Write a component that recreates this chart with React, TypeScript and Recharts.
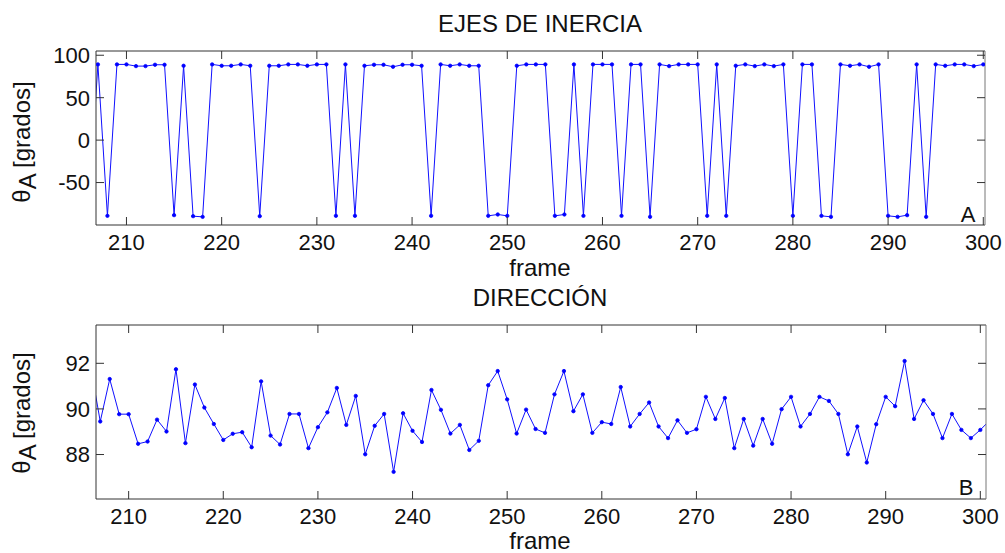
import React from "react";
import { LineChart, Line, XAxis, YAxis } from "recharts";

// frames shown in both panels (206 and 301 sit just outside the axes)
const frames = [
  206, 207, 208, 209, 210, 211, 212, 213, 214, 215, 216, 217, 218, 219, 220, 221,
  222, 223, 224, 225, 226, 227, 228, 229, 230, 231, 232, 233, 234, 235, 236, 237,
  238, 239, 240, 241, 242, 243, 244, 245, 246, 247, 248, 249, 250, 251, 252, 253,
  254, 255, 256, 257, 258, 259, 260, 261, 262, 263, 264, 265, 266, 267, 268, 269,
  270, 271, 272, 273, 274, 275, 276, 277, 278, 279, 280, 281, 282, 283, 284, 285,
  286, 287, 288, 289, 290, 291, 292, 293, 294, 295, 296, 297, 298, 299, 300, 301,
];

// panel A: ejes de inercia (degrees)
const ejes = [
  -88.2, 89.2, -89.2, 89.2, 89.2, 87.2, 87.2, 88.8, 88.8, -88.4, 87.6, -89.6, -90.4, 89.2, 87.6, 87.6,
  89.2, 87.6, -89.6, 87.6, 87.6, 89.2, 89.2, 87.6, 89.2, 89.2, -89.2, 89.2, -89.2, 87.6, 88.8, 88.8,
  86.4, 88.8, 88.8, 87.6, -89.2, 89.2, 87.6, 89.2, 87.6, 87.6, -89.2, -87.6, -89.2, 87.6, 89.2, 89.2,
  89.2, -89.2, -87.6, 89.2, -89.2, 89.2, 89.2, 89.2, -89.2, 89.2, 89.2, -90.4, 89.2, 87.2, 89.2, 89.2,
  89.2, -89.2, 89.2, -89.2, 87.6, 89.2, 87.2, 89.2, 87.2, 89.2, -89.2, 89.2, 89.2, -89.2, -90.4, 89.2,
  87.6, 89.2, 86.4, 89.2, -89.2, -90.4, -88.4, 89.2, -90.4, 89.2, 87.6, 89.2, 89.2, 87.2, 89.2, 89.2,
];

// panel B: direccion (degrees)
const direccion = [
  91.8, 89.45, 91.31, 89.77, 89.77, 88.47, 88.57, 89.53, 89.01, 91.74, 88.5, 91.07, 90.06, 89.34, 88.64, 88.91,
  88.98, 88.32, 91.21, 88.83, 88.44, 89.78, 89.78, 88.28, 89.2, 89.85, 90.92, 89.3, 90.57, 88.01, 89.26, 89.78,
  87.24, 89.81, 89.04, 88.55, 90.83, 89.96, 88.92, 89.3, 88.2, 88.6, 91.04, 91.66, 90.42, 88.92, 89.97, 89.12,
  88.95, 90.64, 91.66, 89.9, 90.64, 88.95, 89.42, 89.34, 90.96, 89.23, 89.78, 90.28, 89.23, 88.72, 89.5, 88.95,
  89.11, 90.53, 89.56, 90.48, 88.28, 89.56, 88.39, 89.56, 88.47, 89.99, 90.53, 89.23, 89.78, 90.53, 90.35, 89.78,
  88.01, 89.23, 87.65, 89.33, 90.53, 90.12, 92.1, 89.56, 90.38, 89.78, 88.72, 89.78, 89.08, 88.72, 89.08, 89.5,
];

const xTicks = [210, 220, 230, 240, 250, 260, 270, 280, 290, 300];
const yTicksA = [-50, 0, 50, 100];
const yTicksB = [88, 90, 92];

const data = frames.map((f, i) => ({ frame: f, ejes: ejes[i], dir: direccion[i] }));

const FONT = '"Liberation Sans", Arial, sans-serif';
const FRAME = "#333";
const BLUE = "#1010ff";
const TICK = 8;

const tickBottom = (props: any) => {
  const { x, y, payload } = props;
  return (
    <g>
      <line x1={x} y1={y} x2={x} y2={y - TICK} stroke={FRAME} />
      <text x={x} y={y + 17} dy="0.36em" textAnchor="middle" fontSize={22} fontFamily={FONT} fill="#111">
        {payload.value}
      </text>
    </g>
  );
};

const tickTop = (props: any) => {
  const { x, y } = props;
  return <line x1={x} y1={y} x2={x} y2={y + TICK} stroke={FRAME} />;
};

const tickLeft = (props: any) => {
  const { x, y, payload } = props;
  return (
    <g>
      <line x1={x} y1={y} x2={x + TICK} y2={y} stroke={FRAME} />
      <text x={x - 6} y={y} dy="0.36em" textAnchor="end" fontSize={22} fontFamily={FONT} fill="#111">
        {payload.value}
      </text>
    </g>
  );
};

const tickRight = (props: any) => {
  const { x, y } = props;
  return <line x1={x} y1={y} x2={x - TICK} y2={y} stroke={FRAME} />;
};

function Panel({
  dataKey,
  domainX,
  domainY,
  yTicks,
  height,
  margin,
}: {
  dataKey: string;
  domainX: [number, number];
  domainY: [number, number];
  yTicks: number[];
  height: number;
  margin: { top: number; right: number; bottom: number; left: number };
}) {
  return (
    <LineChart width={1005} height={height} data={data} margin={margin}>
      <XAxis
        dataKey="frame"
        type="number"
        domain={domainX}
        allowDataOverflow
        ticks={xTicks}
        interval={0}
        height={30}
        tickSize={0}
        tickMargin={0}
        tickLine={false}
        axisLine={{ stroke: FRAME }}
        tick={tickBottom}
      />
      <XAxis
        xAxisId="top"
        dataKey="frame"
        type="number"
        orientation="top"
        domain={domainX}
        allowDataOverflow
        ticks={xTicks}
        interval={0}
        height={10}
        tickSize={0}
        tickMargin={0}
        tickLine={false}
        axisLine={{ stroke: FRAME }}
        tick={tickTop}
      />
      <YAxis
        type="number"
        domain={domainY}
        allowDataOverflow
        ticks={yTicks}
        interval={0}
        width={40}
        tickSize={0}
        tickMargin={0}
        tickLine={false}
        axisLine={{ stroke: FRAME }}
        tick={tickLeft}
      />
      <YAxis
        yAxisId="right"
        orientation="right"
        type="number"
        domain={domainY}
        allowDataOverflow
        ticks={yTicks}
        interval={0}
        width={10}
        tickSize={0}
        tickMargin={0}
        tickLine={false}
        axisLine={{ stroke: "#777" }}
        tick={tickRight}
      />
      <Line
        dataKey={dataKey}
        stroke={BLUE}
        strokeWidth={1}
        dot={{ r: 1.7, fill: "#0000ff", stroke: "#0000ff", strokeWidth: 0.8 }}
        activeDot={false}
        isAnimationActive={false}
      />
    </LineChart>
  );
}

// labels drawn on an svg overlay at fixed page positions
function Labels() {
  const t = { fontFamily: FONT, fill: "#111" };
  const yLabel = (cx: number, cy: number) => (
    <text
      {...t}
      fontSize={24}
      textAnchor="middle"
      transform={`translate(${cx},${cy}) rotate(-90)`}
    >
      θ<tspan dy={6}>A</tspan>
      <tspan dy={-6}> [grados]</tspan>
    </text>
  );
  return (
    <svg width={1005} height={553} style={{ position: "absolute", left: 0, top: 0, pointerEvents: "none" }}>
      <text {...t} x={540} y={32} fontSize={24} textAnchor="middle">EJES DE INERCIA</text>
      <text {...t} x={540} y={276} fontSize={24} textAnchor="middle">frame</text>
      <text {...t} x={540} y={306} fontSize={24} textAnchor="middle">DIRECCIÓN</text>
      <text {...t} x={540} y={549} fontSize={24} textAnchor="middle">frame</text>
      <text {...t} x={968} y={222} fontSize={22} textAnchor="middle">A</text>
      <text {...t} x={966} y={495} fontSize={22} textAnchor="middle">B</text>
      {yLabel(30, 142)}
      {yLabel(30, 413)}
    </svg>
  );
}

export default function App() {
  return (
    <div style={{ position: "absolute", left: 0, top: 0, width: 1005, height: 553, background: "#fff", overflow: "hidden" }}>
      <div style={{ position: "absolute", left: 0, top: 0 }}>
        <Panel
          dataKey="ejes"
          domainX={[206.8, 300.18]}
          domainY={[-100, 105]}
          yTicks={yTicksA}
          height={275}
          margin={{ top: 41, right: 10, bottom: 20, left: 56 }}
        />
      </div>
      <div style={{ position: "absolute", left: 0, top: 275 }}>
        <Panel
          dataKey="dir"
          domainX={[206.55, 300.6]}
          domainY={[86.05, 93.68]}
          yTicks={yTicksB}
          height={278}
          margin={{ top: 40, right: 9, bottom: 24, left: 56 }}
        />
      </div>
      <Labels />
    </div>
  );
}
